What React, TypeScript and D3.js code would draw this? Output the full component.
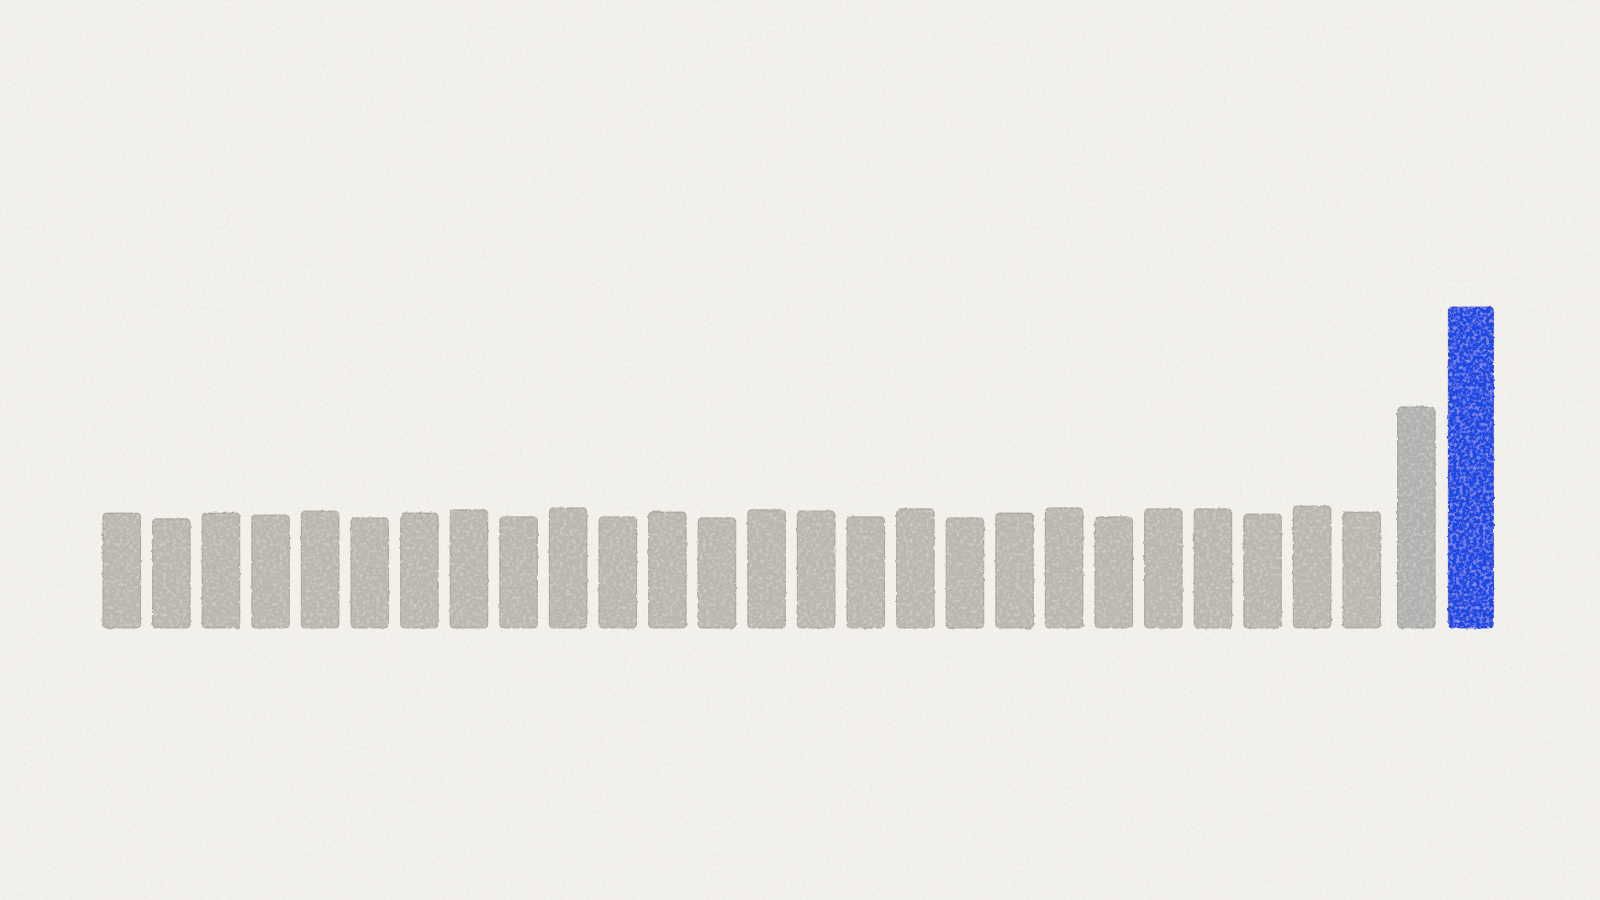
import { useEffect, useRef } from "react";
import * as d3 from "d3";

// one value per bar (blue bar = 100)
const CATEGORIES: string[] = d3.range(1, 29).map((i) => `P${i}`);
const VALUES: number[] = [
  35.8, 34.0, 35.8, 35.2, 36.4, 34.3, 35.8, 36.8, 34.6, 37.4,
  34.6, 36.1, 34.3, 36.8, 36.4, 34.6, 37.1, 34.3, 35.8, 37.4,
  34.6, 37.1, 37.1, 35.5, 38.0, 36.1, 68.8, 100,
];
const HIGHLIGHT_GREY = "P27";
const HIGHLIGHT_BLUE = "P28";

const WIDTH = 1600;
const HEIGHT = 900;
const BASELINE = 628;
const TOP = 307;
const X_START = 103;
const STEP = 49.6;
const BAR_WIDTH = 37.5;
const BLUE_WIDTH = 45;
const HIGHLIGHT_GAP = 5; // painted highlights sit a bit further apart

const PAPER = "#f3f1ec";
const GREY = "#bbb6ae";
const GREY_EDGE = "#9d978f";
const COOL_GREY = "#b1b1b0";
const COOL_EDGE = "#8f8f8f";
const BLUE = "#1b48e2";
const BLUE_EDGE = "#1334cc";

function drawChart(svgEl: SVGSVGElement | null) {
  if (!svgEl) return;
  const svg = d3.select(svgEl);
  svg.selectAll("*").remove();

  const pad = 1 - BAR_WIDTH / STEP;
  const x = d3
    .scaleBand<string>()
    .domain(CATEGORIES)
    .range([X_START, X_START + STEP * (CATEGORIES.length - pad)])
    .paddingInner(pad)
    .paddingOuter(0);
  const y = d3.scaleLinear().domain([0, 100]).range([BASELINE, TOP]);

  const defs = svg.append("defs");

  // fine paper grain
  const paper = defs.append("filter").attr("id", "paper").attr("x", 0).attr("y", 0).attr("width", "100%").attr("height", "100%");
  paper.append("feTurbulence").attr("type", "fractalNoise").attr("baseFrequency", 0.3).attr("numOctaves", 3).attr("seed", 3).attr("result", "noise");
  paper
    .append("feColorMatrix")
    .attr("in", "noise")
    .attr("type", "matrix")
    .attr("values", "0 0 0 0 0.55  0 0 0 0 0.53  0 0 0 0 0.5  0 0 0 -1.6 0.85")
    .attr("result", "tint");
  paper.append("feComposite").attr("in", "tint").attr("in2", "SourceGraphic").attr("operator", "in");

  // ragged watercolour edges + granulation inside the wash
  const wash = defs.append("filter").attr("id", "wash").attr("x", "-10%").attr("y", "-10%").attr("width", "120%").attr("height", "120%");
  wash.append("feTurbulence").attr("type", "fractalNoise").attr("baseFrequency", 0.22).attr("numOctaves", 2).attr("seed", 7).attr("result", "edgeNoise");
  wash.append("feDisplacementMap").attr("in", "SourceGraphic").attr("in2", "edgeNoise").attr("scale", 2.5).attr("result", "ragged");
  wash.append("feTurbulence").attr("type", "fractalNoise").attr("baseFrequency", 0.3).attr("numOctaves", 3).attr("seed", 11).attr("result", "grain");
  wash
    .append("feColorMatrix")
    .attr("in", "grain")
    .attr("type", "matrix")
    .attr("values", "0 0 0 0 1  0 0 0 0 1  0 0 0 0 1  0 0 0 -0.7 0.38")
    .attr("result", "speckle");
  wash.append("feComposite").attr("in", "speckle").attr("in2", "ragged").attr("operator", "in").attr("result", "speckleIn");
  const merge = wash.append("feMerge");
  merge.append("feMergeNode").attr("in", "ragged");
  merge.append("feMergeNode").attr("in", "speckleIn");

  svg.append("rect").attr("width", WIDTH).attr("height", HEIGHT).attr("fill", PAPER);
  svg.append("rect").attr("width", WIDTH).attr("height", HEIGHT).attr("fill", "#000").attr("filter", "url(#paper)").attr("opacity", 0.16);

  const data = CATEGORIES.map((c, i) => ({ key: c, value: VALUES[i], i }));
  const firstHighlight = CATEGORIES.indexOf(HIGHLIGHT_GREY);

  const fill = (k: string) => (k === HIGHLIGHT_BLUE ? BLUE : k === HIGHLIGHT_GREY ? COOL_GREY : GREY);
  const edge = (k: string) => (k === HIGHLIGHT_BLUE ? BLUE_EDGE : k === HIGHLIGHT_GREY ? COOL_EDGE : GREY_EDGE);
  const barX = (d: { key: string; i: number }) => {
    const shift = d.i >= firstHighlight ? (d.i - firstHighlight + 1) * HIGHLIGHT_GAP : 0;
    const extra = d.key === HIGHLIGHT_BLUE ? (BLUE_WIDTH - x.bandwidth()) / 2 : 0;
    return x(d.key)! + shift - extra;
  };
  const barW = (d: { key: string }) => (d.key === HIGHLIGHT_BLUE ? BLUE_WIDTH : x.bandwidth());

  svg
    .append("g")
    .attr("filter", "url(#wash)")
    .selectAll("rect")
    .data(data)
    .join("rect")
    .attr("x", (d) => barX(d))
    .attr("y", (d) => y(d.value))
    .attr("width", (d) => barW(d))
    .attr("height", (d) => BASELINE - y(d.value))
    .attr("rx", 4)
    .attr("fill", (d) => fill(d.key))
    .attr("stroke", (d) => edge(d.key))
    .attr("stroke-width", 1.2)
    .attr("stroke-opacity", 0.7);
}

export default function App() {
  const svgRef = useRef<SVGSVGElement>(null);

  useEffect(() => {
    drawChart(svgRef.current);
  }, []);

  return (
    <div style={{ position: "fixed", left: 0, top: 0, width: WIDTH, height: HEIGHT }}>
      <svg ref={svgRef} width={WIDTH} height={HEIGHT} style={{ display: "block" }} />
    </div>
  );
}
